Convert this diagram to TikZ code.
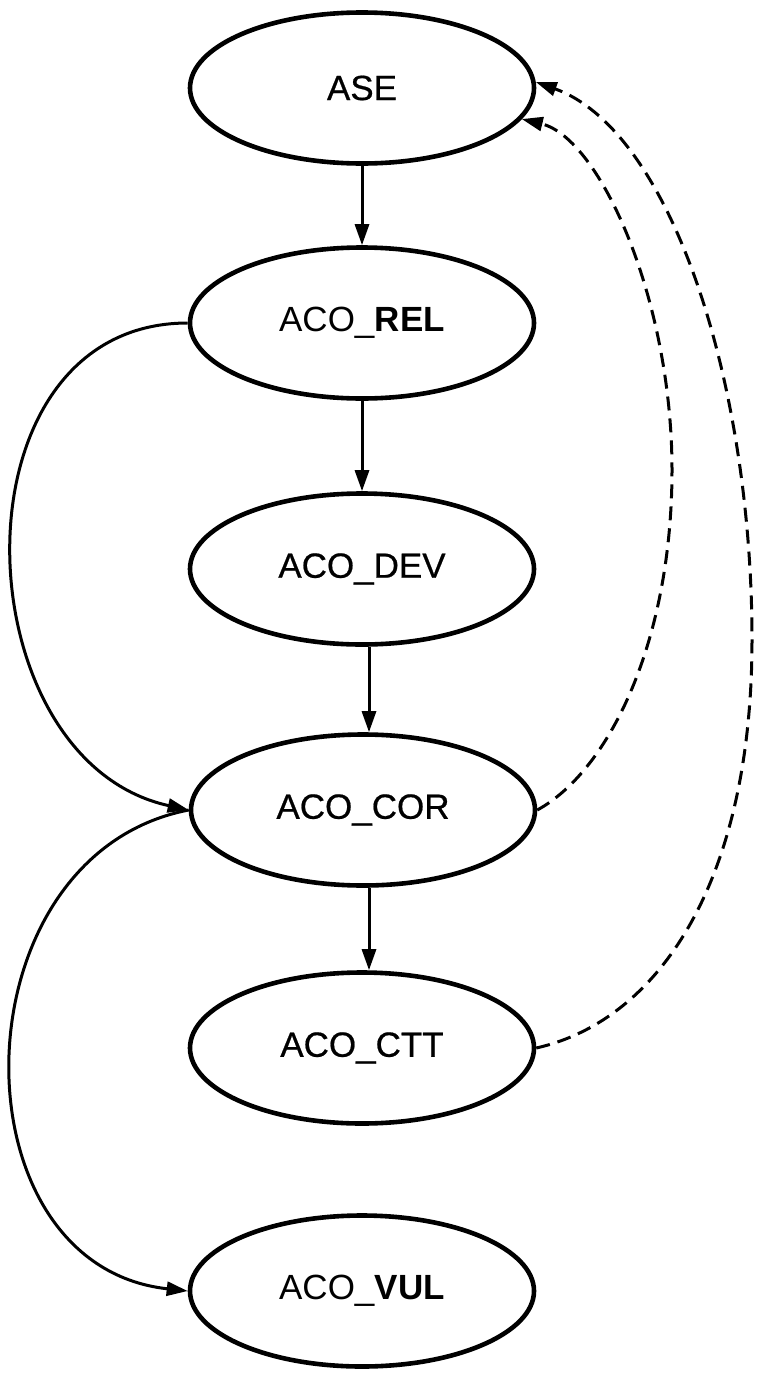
\documentclass[tikz,border=0pt]{standalone}
\usepackage{fontspec}
\setmainfont{Liberation Sans}
\newfontfamily\medfont[FakeBold=0.6]{Liberation Sans}
\usetikzlibrary{arrows.meta,shapes.geometric}
\begin{document}
\begin{tikzpicture}[x=1pt,y=-1pt,
  nd/.style={ellipse, draw, line width=4.6pt, minimum width=344pt, minimum height=151pt,
             inner sep=0pt, font=\fontsize{35}{40}\selectfont},
  edge/.style={line width=3pt, -{Triangle[length=21pt,width=14pt]}},
  dedge/.style={edge, dash pattern=on 14pt off 8pt}]

\node[nd] (ASE) at (362,88)   {\medfont ASE};
\node[nd] (REL) at (362,323)  {ACO\_\textbf{REL}};
\node[nd] (DEV) at (362,569)  {\medfont ACO\_DEV};
\node[nd] (COR) at (363,810)  {\medfont ACO\_COR};
\node[nd] (CTT) at (362,1048) {\medfont ACO\_CTT};
\node[nd] (VUL) at (362,1291) {ACO\_\textbf{VUL}};

\draw[edge] (ASE) -- (REL);
\draw[edge] (REL) -- (DEV);
\draw[edge] ([xshift=7pt]DEV.south) -- ([xshift=6pt]COR.north);
\draw[edge] ([xshift=6pt]COR.south) -- ([xshift=7pt]CTT.north);

\draw[edge] (REL.west) .. controls (-53,323) and (-40,760) .. (COR.west);
\draw[edge] (COR.west) .. controls (-45,855) and (-50,1265) .. (VUL.west);

\draw[dedge] (COR.east) .. controls (610,770) and (672,640) .. (672,470)
                        .. controls (672,300) and (600,138) .. (ASE.-11);
\draw[dedge] (CTT.east) .. controls (660,1020) and (752,880) .. (752,640)
                        .. controls (752,380) and (670,130) .. (ASE.2);

\pgfresetboundingbox
\path[use as bounding box] (0,0) rectangle (761,1376);
\end{tikzpicture}
\end{document}
